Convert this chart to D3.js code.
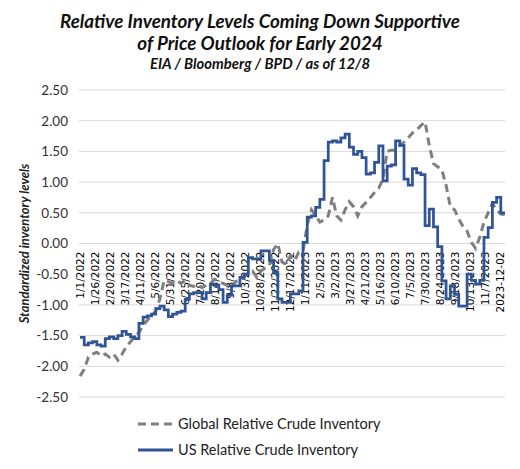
<!DOCTYPE html>
<html>
<head>
<meta charset="utf-8">
<script src="https://cdn.jsdelivr.net/npm/d3@7"></script>
<style>
  body { margin: 0; background: #fff; }
  svg { display: block; font-family: Lato, "Open Sans", sans-serif; }
</style>
</head>
<body>
<div id="chart"></div>
<script>
// weekly readings, first week 1/1/2022
var startDate = "2022-01-01";

var usInventory = [
  -1.53, -1.65, -1.62, -1.60, -1.65, -1.67, -1.55, -1.52, -1.55, -1.50,
  -1.43, -1.48, -1.52, -1.55, -1.30, -1.20, -1.18, -1.15, -1.06, -1.02,
  -1.08, -1.19, -1.15, -1.12, -1.10, -0.91, -0.82, -0.80, -0.80, -0.90,
  -0.80, -0.66, -0.68, -0.75, -0.96, -0.84, -0.69, -0.69, -0.55, -0.50,
  -0.23, -0.25, -0.25, -0.12, -0.12, -0.28, -0.47, -0.90, -0.96, -0.96,
  -0.82, -0.82, -0.77, 0.02, 0.43, 0.45, 0.59, 0.72, 1.35, 1.65,
  1.67, 1.65, 1.72, 1.78, 1.57, 1.45, 1.50, 1.40, 1.13, 1.15,
  1.32, 1.59, 1.02, 1.26, 1.28, 1.67, 1.60, 1.05, 0.95, 1.22,
  1.15, 1.12, 0.29, 0.56, 0.27, -0.05, -0.61, -0.90, -0.69, -0.83,
  -1.02, -1.02, -0.50, -0.60, -0.66, -0.60, 0.10, 0.26, 0.67, 0.75,
  0.50, 0.50
];

var globalInventory = [
  -2.16, -2.05, -1.85, -1.80, -1.77, -1.83, -1.80, -1.85, -1.80, -1.90,
  -1.80, -1.68, -1.60, -1.52, -1.45, -1.33, -1.25, -1.18, -1.10, -0.90,
  -0.60, -0.62, -0.65, -0.60, -0.65, -0.60, -0.68, -0.70, -0.67, -0.72,
  -0.68, -0.65, -0.58, -0.62, -0.65, -0.68, -0.72, -0.62, -0.60, -0.55,
  -0.47, -0.45, -0.55, -0.45, -0.40, -0.36, -0.10, 0.00, -0.30, -0.34,
  -0.20, -0.28, -0.14, -0.12, 0.30, 0.55, 0.45, 0.35, 0.38, 0.45,
  0.75, 0.45, 0.38, 0.55, 0.68, 0.60, 0.45, 0.60, 0.67, 0.75,
  0.83, 0.90, 1.05, 1.50, 1.52, 1.52, 1.60, 1.65, 1.72, 1.80,
  1.85, 1.92, 1.98, 1.60, 1.30, 1.25, 1.20, 0.95, 0.60, 0.55,
  0.40, 0.28, 0.20, 0.02, -0.08, 0.10, 0.35, 0.50, 0.65, 0.55,
  0.48, 0.47
];

var xTickLabels = [
  "1/1/2022", "1/26/2022", "2/20/2022", "3/17/2022", "4/11/2022", "5/6/2022",
  "5/31/2022", "6/25/2022", "7/20/2022", "8/14/2022", "9/8/2022", "10/3/2022",
  "10/28/2022", "11/22/2022", "12/17/2022", "1/11/2023", "2/5/2023", "3/2/2023",
  "3/27/2023", "4/21/2023", "5/16/2023", "6/10/2023", "7/5/2023", "7/30/2023",
  "8/24/2023", "9/18/2023", "10/13/2023", "11/7/2023", "2023-12-02"
];

var yTicks = [-2.5, -2.0, -1.5, -1.0, -0.5, 0, 0.5, 1.0, 1.5, 2.0, 2.5];

var seriesNames = ["Global Relative Crude Inventory", "US Relative Crude Inventory"];

var width = 520, height = 469;
var margin = {top: 90, right: 15, bottom: 72, left: 80};

var svg = d3.select("#chart").append("svg")
  .attr("width", width)
  .attr("height", height);

var parseIso = d3.timeParse("%Y-%m-%d");
var parseUs = d3.timeParse("%m/%d/%Y");
var first = parseIso(startDate);

var usData = usInventory.map(function(v, i) { return {date: d3.timeDay.offset(first, 7 * i), value: v}; });
var globalData = globalInventory.map(function(v, i) { return {date: d3.timeDay.offset(first, 7 * i), value: v}; });

var x = d3.scaleTime()
  .domain([first, usData[usData.length - 1].date])
  .range([margin.left, width - margin.right]);

var y = d3.scaleLinear()
  .domain([-2.5, 2.5])
  .range([height - margin.bottom, margin.top]);

// title
var title = svg.append("g")
  .attr("text-anchor", "middle")
  .style("font-weight", "bold")
  .style("font-style", "italic")
  .attr("fill", "#111");
title.append("text").attr("x", 260).attr("y", 28).style("font-size", "18.8px")
  .text("Relative Inventory Levels Coming Down Supportive");
title.append("text").attr("x", 260).attr("y", 50).style("font-size", "18.8px")
  .text("of Price Outlook for Early 2024");
title.append("text").attr("x", 260).attr("y", 69).style("font-size", "14.8px")
  .text("EIA / Bloomberg / BPD / as of 12/8");

// gridlines
svg.append("g")
  .selectAll("line")
  .data(yTicks)
  .enter()
  .append("line")
    .attr("x1", margin.left - 1)
    .attr("x2", width - margin.right)
    .attr("y1", function(d) { return y(d); })
    .attr("y2", function(d) { return y(d); })
    .attr("stroke", "#d9d9d9")
    .attr("stroke-width", 1);

// y axis
var yAxis = svg.append("g")
  .attr("transform", "translate(" + (margin.left - 1) + ",0)")
  .call(d3.axisLeft(y).tickValues(yTicks).tickSize(0).tickPadding(11)
    .tickFormat(function(d) { return d.toFixed(2); }));
yAxis.select(".domain").remove();
yAxis.selectAll("text")
  .style("font-family", "Lato, sans-serif")
  .style("font-size", "13.5px")
  .attr("fill", "#333");

svg.append("text")
  .attr("transform", "translate(29," + ((margin.top + height - margin.bottom) / 2) + ") rotate(-90)")
  .attr("text-anchor", "middle")
  .style("font-size", "13px")
  .style("font-style", "italic")
  .style("font-weight", "bold")
  .attr("fill", "#222")
  .text("Standardized inventory levels");

// x tick labels, rotated, hanging below the zero line
svg.append("g")
  .selectAll("text")
  .data(xTickLabels)
  .enter()
  .append("text")
    .attr("transform", function(d) {
      var dt = parseUs(d) || parseIso(d);
      return "translate(" + x(dt) + "," + (y(0) + 8) + ") rotate(-90)";
    })
    .attr("dy", "0.35em")
    .attr("text-anchor", "end")
    .style("font-family", "'DejaVu Sans', Verdana, sans-serif")
    .style("font-size", "10.5px")
    .attr("fill", "#000")
    .text(function(d) { return d; });

// series
var globalLine = d3.line()
  .x(function(d) { return x(d.date); })
  .y(function(d) { return y(d.value); });

var usLine = d3.line()
  .curve(d3.curveStepAfter)
  .x(function(d) { return x(d.date); })
  .y(function(d) { return y(d.value); });

svg.append("path")
  .datum(globalData)
  .attr("d", globalLine)
  .attr("fill", "none")
  .attr("stroke", "#7f7f7f")
  .attr("stroke-width", 3)
  .attr("stroke-dasharray", "8,5");

svg.append("path")
  .datum(usData)
  .attr("d", usLine)
  .attr("fill", "none")
  .attr("stroke", "#2f5597")
  .attr("stroke-width", 2.75);

// legend
var legend = svg.append("g");
var legendItems = [
  {name: seriesNames[0], color: "#7f7f7f", dash: "8,5", y: 424},
  {name: seriesNames[1], color: "#2f5597", dash: null, y: 450}
];
legendItems.forEach(function(item) {
  legend.append("line")
    .attr("x1", 138).attr("x2", 173)
    .attr("y1", item.y).attr("y2", item.y)
    .attr("stroke", item.color)
    .attr("stroke-width", 3)
    .attr("stroke-dasharray", item.dash);
  legend.append("text")
    .attr("x", 178).attr("y", item.y)
    .attr("dy", "0.35em")
    .style("font-size", "14.5px")
    .attr("fill", "#222")
    .text(item.name);
});
</script>
</body>
</html>
